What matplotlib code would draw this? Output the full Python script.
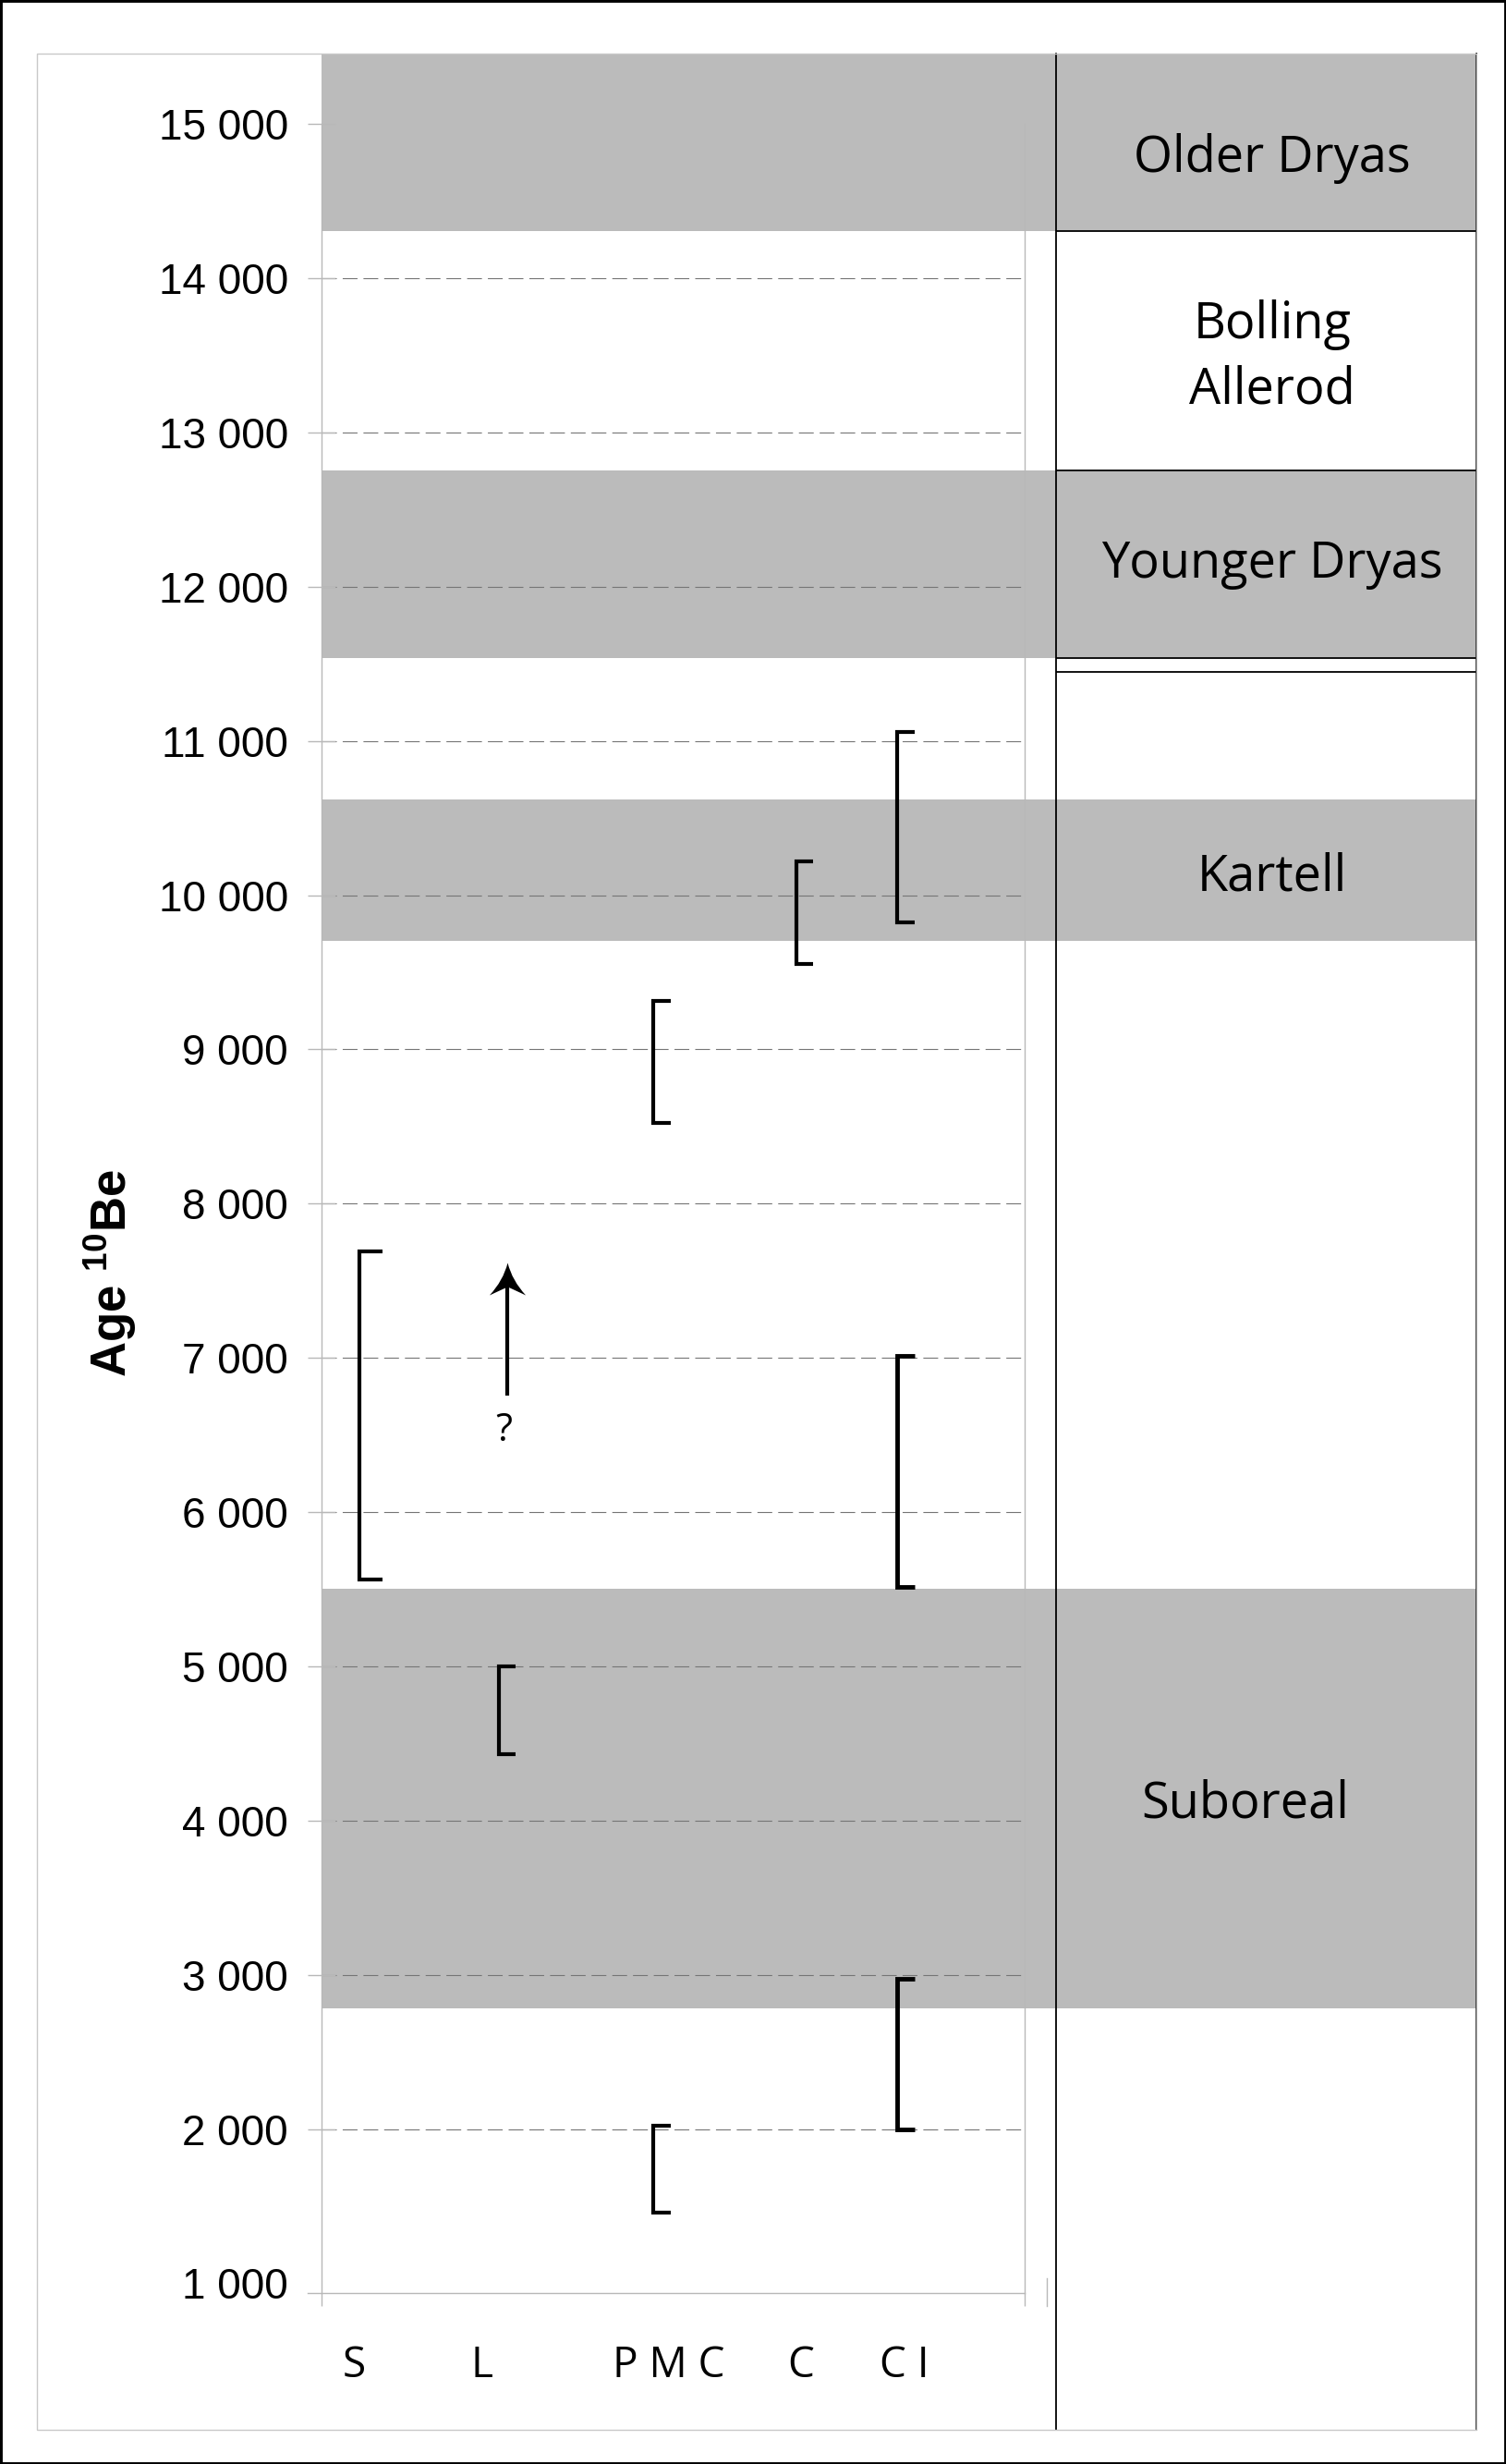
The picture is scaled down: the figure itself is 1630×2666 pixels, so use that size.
import matplotlib
matplotlib.use("Agg")
import matplotlib.pyplot as plt
from matplotlib.patches import Rectangle
from matplotlib.path import Path

plt.rcParams['mathtext.fontset'] = 'custom'
plt.rcParams['mathtext.rm'] = 'Liberation Sans'
plt.rcParams['mathtext.bf'] = 'Liberation Sans:bold'

# ---------------- data ----------------
tick_vals = [1000, 2000, 3000, 4000, 5000, 6000, 7000, 8000,
             9000, 10000, 11000, 12000, 13000, 14000, 15000]
grid_vals = [2000, 3000, 4000, 5000, 6000, 7000, 8000,
             9000, 10000, 11000, 12000, 13000, 14000]

# climatic periods (shaded bands)
period_names = ['Older Dryas', 'Younger Dryas', 'Kartell', 'Suboreal']
period_low = [14306, 11535, 9701, 2782]
period_high = [15457, 12757, 10621, 5500]
# boundary lines in the right-hand column
boundary_lines = [14306, 12757, 11535, 11445]

# sites (x categories)
categories = ['S', 'L', 'P M C', 'C', 'C I']

# age ranges (brackets)
range_site = ['S', 'L', 'P M C', 'P M C', 'C', 'C I', 'C I', 'C I']
range_low = [5560, 4430, 8522, 1455, 9554, 9825, 5515, 2000]
range_high = [7690, 5000, 9314, 2019, 10221, 11059, 7016, 2973]

# open-ended (arrow) age for L
arrow_site = 'L'
arrow_from = 6758
arrow_to = 7620
arrow_note = '?'
arrow_note_age = 6530

# ---------------- layout ----------------
W, H = 1630, 2666
fig = plt.figure(figsize=(W / 100, H / 100), dpi=100)

AX_L, AX_R, AX_T, AX_B = 348.3, 1109.0, 58.0, 2480.7
PAN_L, PAN_R, PAN_B = 1142.7, 1598.3, 2629.0
Y_TOP, Y_BOT = 15457, 938.2
BAND = '#bbbbbb'
LG = '#b8b8b8'

# outer border and light frame
fig.add_artist(Rectangle((0, 0), 1, 1, transform=fig.transFigure, fill=False,
                         ec='black', lw=3.5))
fig.add_artist(Rectangle((39.5 / W, 1 - PAN_B / H), (PAN_R - 39.5) / W, (PAN_B - 58) / H,
                         transform=fig.transFigure, fill=False, ec='#c8c8c8', lw=1.0))

ax = fig.add_axes([AX_L / W, 1 - AX_B / H, (AX_R - AX_L) / W, (AX_B - AX_T) / H])
ax.set_facecolor('none')
ax.set_xlim(0, 10)
ax.set_ylim(Y_BOT, Y_TOP)
for s in ax.spines.values():
    s.set_visible(False)

px_per_x = (AX_R - AX_L) / 10.0
yr_per_px = (Y_TOP - Y_BOT) / (AX_B - AX_T)
band_xmax = (PAN_L - AX_L) / (AX_R - AX_L)
for lo, hi in zip(period_low, period_high):
    ax.axhspan(lo, hi, xmin=0, xmax=band_xmax, fc=BAND, ec='none',
               clip_on=False, zorder=0)

ax.hlines(grid_vals, 0, 10, colors='#757575', lw=0.8,
          linestyles=[(0, (14.4, 5.8))], zorder=1)

# axis lines
ax.plot([0, 0], [15000, Y_BOT], color=LG, lw=1.0, clip_on=False, zorder=2)
ax.plot([10, 10], [15000, Y_BOT], color=LG, lw=1.0, clip_on=False, zorder=2)
ax.plot([-15 / px_per_x, 10], [Y_BOT, Y_BOT], color=LG, lw=1.0, clip_on=False, zorder=2)
xs = (1132.6 - AX_L) / px_per_x
ax.plot([xs, xs], [Y_BOT + 16 * yr_per_px, Y_BOT - 14 * yr_per_px], color=LG, lw=1.0,
        clip_on=False, zorder=2)

ax.set_xticks([0, 10])
ax.set_xticklabels([])
ax.tick_params(axis='x', direction='out', length=10, width=1.0, color=LG)

ax.set_yticks(tick_vals)
ax.set_yticklabels([f"{v:,}".replace(',', ' ') for v in tick_vals])
ax.tick_params(axis='y', direction='inout', length=21.6, width=1.0, color=LG,
               pad=15.5, labelsize=33)
for lab in ax.get_yticklabels():
    lab.set_fontfamily('Liberation Sans')
ax.yaxis.get_major_ticks()[0].tick1line.set_visible(False)

# category labels
cat_label_pos = [0.456, 2.28, 4.94, 6.82, 8.29]
lab_y = -(2571.7 - AX_B) / (AX_B - AX_T)
for pos, lab in zip(cat_label_pos, categories):
    ax.text(pos, lab_y, lab, transform=ax.get_xaxis_transform(), ha='center',
            va='baseline', fontsize=33, family='Open Sans')

# brackets
bracket_pos = {'S': 0.535, 'L': 2.52, 'P M C': 4.72, 'C': 6.75, 'C I': 8.19}
for i, (site, lo, hi) in enumerate(zip(range_site, range_low, range_high)):
    x = bracket_pos[site]
    cap = 0.33 if site == 'S' else 0.24
    lw = 3.5 if (site == 'C I' and i >= 6) else 3.0
    ax.plot([x + cap, x, x, x + cap], [hi, hi, lo, lo], color='black', lw=lw,
            solid_capstyle='butt', solid_joinstyle='miter', zorder=3)

# arrow for L (shaft + concave "stealth" head marker)
xa = (549 - AX_L) / px_per_x
head_verts = [(0, 0), (-0.14, -0.55), (-0.56, -1.0), (0, -0.74),
              (0.56, -1.0), (0.14, -0.55), (0, 0), (0, 0)]
head_codes = [Path.MOVETO, Path.CURVE3, Path.CURVE3, Path.LINETO,
              Path.LINETO, Path.CURVE3, Path.CURVE3, Path.CLOSEPOLY]
head = Path(head_verts, head_codes)
head_len_px = 35
ax.plot([xa, xa], [arrow_from, arrow_to - 22 * yr_per_px], color='black', lw=3.0,
        solid_capstyle='butt', zorder=3)
ax.plot([xa], [arrow_to], marker=head, markersize=2 * head_len_px * 0.72,
        color='black', markeredgewidth=0, zorder=4)
ax.text(xa - 0.05, arrow_note_age, arrow_note, ha='center', va='center',
        fontsize=30, family='Open Sans')

# y label
fig.text(119.5 / W, 1 - 1377.5 / H, r'Age $^{\mathbf{10}}$Be', rotation=90,
         ha='center', va='center', fontsize=38, fontweight='bold',
         family='Liberation Sans')

# ---------------- right column ----------------
pan_ybot = Y_BOT - (PAN_B - AX_B) * yr_per_px
ax2 = fig.add_axes([PAN_L / W, 1 - PAN_B / H, (PAN_R - PAN_L) / W, (PAN_B - AX_T) / H])
ax2.set_facecolor('none')
ax2.set_xlim(0, 1)
ax2.set_ylim(pan_ybot, Y_TOP)
ax2.set_xticks([])
ax2.set_yticks([])
ax2.spines['top'].set_visible(False)
ax2.spines['bottom'].set_visible(False)
for side in ('left', 'right'):
    ax2.spines[side].set_linewidth(1.3)
    ax2.spines[side].set_color('black')
for lo, hi in zip(period_low, period_high):
    ax2.axhspan(lo, hi, fc=BAND, ec='none', zorder=0)
for yb in boundary_lines:
    ax2.axhline(yb, color='black', lw=1.3, zorder=2)

label_texts = ['Older Dryas', 'Bolling', 'Allerod', 'Younger Dryas', 'Kartell', 'Suboreal']
label_x = [0.514, 0.514, 0.514, 0.514, 0.514, 0.450]
label_base = [14690, 13611, 13186, 12059, 10028, 4022]
for t, lx, ly in zip(label_texts, label_x, label_base):
    ax2.text(lx, ly, t, ha='center', va='baseline', fontsize=39, family='Open Sans')

fig.savefig('out.png', dpi=100)
